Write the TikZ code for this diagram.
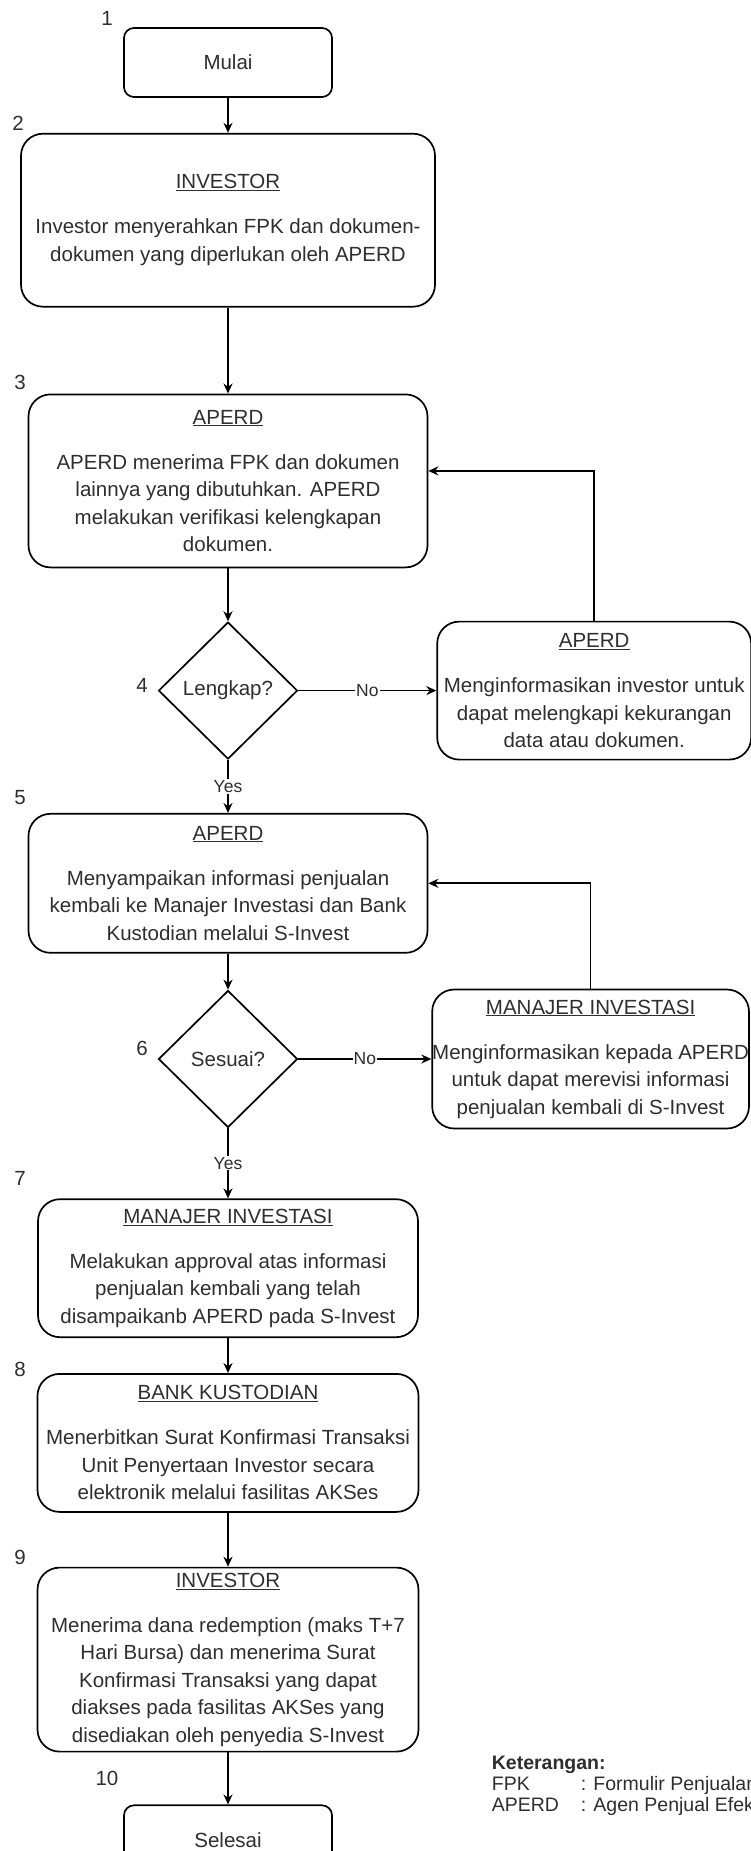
\documentclass[tikz,border=0pt]{standalone}
\usepackage{fontspec}
\setmainfont{Liberation Sans}
\usetikzlibrary{shapes,positioning,arrows.meta}
\tikzstyle{rec} = [rectangle,draw,rounded corners=22pt,text centered,align=center,inner sep=0pt]
\tikzstyle{term} = [rectangle,draw,rounded corners=10pt,text centered,inner sep=0pt,minimum width=208pt,minimum height=69pt]
\tikzstyle{dec} = [diamond,draw,inner sep=0pt,minimum width=139pt,minimum height=137pt]
\tikzstyle{num} = [inner sep=0pt]
\tikzstyle{lbl} = [fill=white,inner sep=1pt,font=\fontsize{17.5}{20}\selectfont]

\begin{document}
\begin{tikzpicture}[x=1pt,y=-1pt,line width=1.7pt,>={Stealth[length=10pt,width=9pt]},font=\fontsize{20.5}{27.5}\selectfont,text=black!82]
    \useasboundingbox (0,0) rectangle (750,1851);

    	\node[term](mulai) at (228,62.5) {Mulai};

    	\node[rec,minimum width=414pt,minimum height=173pt,below=35pt of mulai](investor) {\underline{INVESTOR}\\[17.5pt]Investor menyerahkan FPK dan dokumen-\\dokumen yang diperlukan oleh APERD};
    	\draw[->] (mulai) -- (investor);

    	\node[rec,minimum width=399pt,minimum height=173pt,below=86pt of investor](terima) {\underline{APERD}\\[17.5pt]APERD menerima FPK dan dokumen\\lainnya yang dibutuhkan. APERD\\melakukan verifikasi kelengkapan\\dokumen.};
    	\draw[->] (investor) -- (terima);

    	\node[dec,below=53pt of terima](lengkap) {Lengkap?};
    	\draw[->] (terima) -- (lengkap);

    	\node[rec,minimum width=314pt,minimum height=138pt,right=138pt of lengkap](lengkapi) {\underline{APERD}\\[17.5pt]Menginformasikan investor untuk\\dapat melengkapi kekurangan\\data atau dokumen.};
    	\draw[->] (lengkap) -- node[lbl] {No} (lengkapi);
    	\draw[->] (lengkapi.north) |- ([yshift=10pt]terima.east);

    	\node[rec,minimum width=399pt,minimum height=139pt,below=53pt of lengkap](sampaikan) {\underline{APERD}\\[17.5pt]Menyampaikan informasi penjualan\\kembali ke Manajer Investasi dan Bank\\Kustodian melalui S-Invest};
    	\draw[->] (lengkap) -- node[lbl] {Yes} (sampaikan);

    	\node[dec,below=36pt of sampaikan](sesuai) {Sesuai?};
    	\draw[->] (sampaikan) -- (sesuai);

    	\node[rec,minimum width=315pt,minimum height=139pt,right=133pt of sesuai](revisi) {\underline{MANAJER INVESTASI}\\[17.5pt]Menginformasikan kepada APERD\\untuk dapat merevisi informasi\\penjualan kembali di S-Invest};
    	\draw[->] (sesuai) -- node[lbl] {No} (revisi);
    	\draw[->] (revisi.north) |- (sampaikan.east);

    	\node[rec,minimum width=380pt,minimum height=138pt,below=70pt of sesuai](approval) {\underline{MANAJER INVESTASI}\\[17.5pt]Melakukan approval atas informasi\\penjualan kembali yang telah\\disampaikanb APERD pada S-Invest};
    	\draw[->] (sesuai) -- node[lbl] {Yes} (approval);

    	\node[rec,minimum width=381pt,minimum height=138pt,below=35pt of approval](bank) {\underline{BANK KUSTODIAN}\\[17.5pt]Menerbitkan Surat Konfirmasi Transaksi\\Unit Penyertaan Investor secara\\elektronik melalui fasilitas AKSes};
    	\draw[->] (approval) -- (bank);

    	\node[rec,minimum width=381pt,minimum height=184pt,below=54pt of bank](dana) {\underline{INVESTOR}\\[17.5pt]Menerima dana redemption (maks T+7\\Hari Bursa) dan menerima Surat\\Konfirmasi Transaksi yang dapat\\diakses pada fasilitas AKSes yang\\disediakan oleh penyedia S-Invest};
    	\draw[->] (bank) -- (dana);

    	\node[term,below=52pt of dana](selesai) {Selesai};
    	\draw[->] (dana) -- (selesai);

    	% step numbers
    	\node[num](n1) at (107,18) {1};
    	\node[num](n2) at (18,123) {2};
    	\node[num](n3) at (20,382) {3};
    	\node[num](n4) at (142,685) {4};
    	\node[num](n5) at (20,798) {5};
    	\node[num](n6) at (142,1048) {6};
    	\node[num](n7) at (20,1178) {7};
    	\node[num](n8) at (20,1369) {8};
    	\node[num](n9) at (20,1557) {9};
    	\node[num](n10) at (107,1778) {10};

    	\node[anchor=north west,align=left,inner sep=0pt,font=\fontsize{19.5}{21}\selectfont](keterangan) at (491,1755) {\textbf{Keterangan:}\\\makebox[89pt][l]{FPK}: Formulir Penjualan Kembali\\\makebox[89pt][l]{APERD}: Agen Penjual Efek Reksa Dana};

\end{tikzpicture}
\end{document}
